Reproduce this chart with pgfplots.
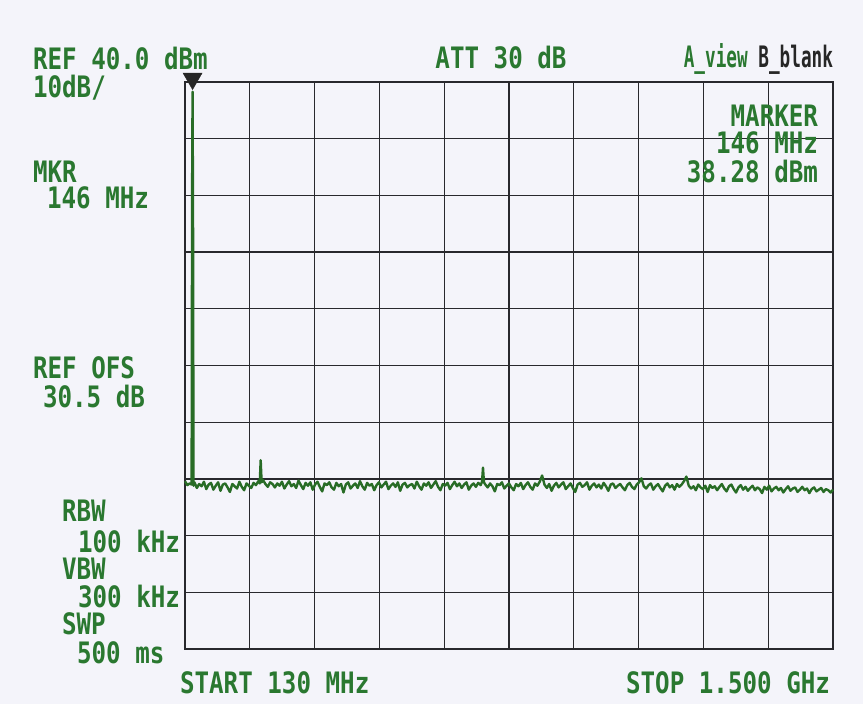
\documentclass[border=0pt]{standalone}
\usepackage{pgfplots}
\pgfplotsset{compat=1.18}
\usepackage{fontspec}
\setmainfont{DejaVu Sans Mono}
\newfontfamily\pf{DejaVu Sans Mono}[FakeStretch=0.82]
\newfontfamily\pfn{DejaVu Sans Mono}[FakeStretch=0.6]
\definecolor{txtgreen}{RGB}{42,120,48}
\definecolor{trgreen}{RGB}{40,108,38}
\definecolor{gridc}{RGB}{40,40,45}
\definecolor{bgc}{RGB}{244,244,250}
\newcommand{\T}{\pf\bfseries\fontsize{29.5bp}{30bp}\selectfont}
\begin{document}
\begin{tikzpicture}
\path[use as bounding box, fill=bgc] (0,0) rectangle (863bp,704bp);
\begin{axis}[
  at={(185bp,55bp)}, anchor=south west,
  scale only axis, width=648bp, height=567bp,
  xmin=130, xmax=1500, ymin=-60, ymax=40,
  xtick={130,267,404,541,678,815,952,1089,1226,1363,1500},
  ytick={-60,-50,-40,-30,-20,-10,0,10,20,30,40},
  xticklabels={}, yticklabels={},
  major tick length=0pt,
  grid=major,
  grid style={gridc, line width=1.3bp},
  axis line style={gridc, line width=1.5bp},
  clip=false,
]
\addplot[trgreen, line width=2.4bp, line join=round, mark=none] coordinates {
(130,-30.4)(135,-31.1)(140,-30.8)(144,-31.0)(145,20)(146,38.28)(147,15)(148,-31.2)
(150,-30.6)(155,-31.6)(160,-30.9)(165,-31.3)(170,-30.5)(175,-31.8)(180,-31.0)(185,-30.7)
(190,-31.9)(195,-31.2)(200,-30.6)(205,-32.1)(210,-31.0)(215,-30.8)(220,-31.5)(225,-32.3)
(230,-30.9)(235,-31.3)(240,-31.7)(245,-30.5)(250,-31.4)(255,-32.0)(260,-30.8)(265,-31.2)
(270,-31.6)(275,-30.7)(280,-31.1)(285,-30.4)(288,-30.8)(290,-26.7)(292,-30.6)(295,-30.2)
(300,-30.9)(305,-31.4)(310,-30.6)(315,-30.9)(320,-31.5)(325,-30.8)(330,-31.2)(335,-30.5)
(340,-31.7)(345,-31.0)(350,-30.4)(355,-31.3)(360,-30.9)(365,-31.6)(370,-30.3)(375,-31.1)
(380,-31.8)(385,-30.7)(390,-31.2)(395,-30.6)(400,-31.9)(405,-31.0)(410,-30.5)(415,-31.4)
(420,-32.2)(425,-30.8)(430,-31.1)(435,-30.6)(440,-31.5)(445,-31.9)(450,-30.7)(455,-31.3)
(460,-30.9)(465,-32.4)(470,-31.0)(475,-30.6)(480,-31.7)(485,-31.2)(490,-30.8)(495,-31.6)
(500,-30.4)(505,-31.3)(510,-31.9)(515,-30.7)(520,-31.2)(525,-30.9)(530,-32.0)(535,-31.1)
(540,-30.6)(545,-31.5)(550,-31.0)(555,-30.5)(560,-31.8)(565,-31.2)(570,-30.8)(575,-31.4)
(580,-30.6)(585,-32.1)(590,-31.0)(595,-30.7)(600,-31.5)(605,-31.1)(610,-30.9)(615,-31.7)
(620,-30.5)(625,-31.3)(630,-31.9)(635,-30.8)(640,-31.2)(645,-30.6)(650,-31.6)(655,-31.0)
(660,-30.4)(665,-31.4)(670,-32.0)(675,-30.9)(680,-31.2)(685,-30.7)(690,-31.8)(695,-31.1)
(700,-30.5)(705,-31.3)(710,-30.8)(715,-31.6)(720,-31.0)(725,-30.6)(730,-31.9)(735,-31.2)
(740,-30.8)(745,-31.4)(750,-30.7)(755,-31.1)(758,-30.5)(760,-28.0)(762,-30.6)(765,-31.0)
(770,-31.5)(775,-30.8)(780,-31.3)(785,-32.2)(790,-30.9)(795,-31.1)(800,-30.6)(805,-31.7)
(810,-31.2)(815,-30.8)(820,-31.5)(825,-32.0)(830,-30.9)(835,-31.3)(840,-30.7)(845,-31.8)
(850,-31.1)(855,-30.6)(860,-31.4)(865,-31.9)(870,-30.8)(875,-31.2)(880,-30.5)(885,-29.4)
(890,-31.0)(895,-31.6)(900,-30.9)(905,-32.1)(910,-31.2)(915,-30.7)(920,-31.5)(925,-31.0)
(930,-30.6)(935,-31.8)(940,-31.3)(945,-30.8)(950,-31.6)(955,-32.3)(960,-31.0)(965,-30.7)
(970,-31.4)(975,-31.1)(980,-30.6)(985,-31.9)(990,-31.2)(995,-30.8)(1000,-31.5)(1005,-31.0)
(1010,-31.7)(1015,-30.7)(1020,-31.3)(1025,-32.1)(1030,-31.0)(1035,-30.8)(1040,-31.6)(1045,-31.2)
(1050,-30.9)(1055,-31.5)(1060,-32.0)(1065,-31.1)(1070,-30.7)(1075,-31.4)(1080,-31.8)(1085,-31.0)
(1090,-30.6)(1095,-29.9)(1100,-31.3)(1105,-31.7)(1110,-31.1)(1115,-30.8)(1120,-31.9)(1125,-31.3)
(1130,-30.9)(1135,-31.6)(1140,-32.2)(1145,-31.2)(1150,-30.8)(1155,-31.5)(1160,-31.1)(1165,-31.9)
(1170,-30.9)(1175,-31.4)(1180,-31.0)(1185,-30.4)(1190,-29.6)(1195,-31.2)(1200,-31.7)(1205,-31.3)
(1210,-32.0)(1215,-31.0)(1220,-31.5)(1225,-31.8)(1230,-31.2)(1235,-32.3)(1240,-31.1)(1245,-31.6)
(1250,-31.3)(1255,-32.0)(1260,-31.4)(1265,-30.9)(1270,-31.7)(1275,-32.2)(1280,-31.3)(1285,-31.0)
(1290,-31.8)(1295,-32.4)(1300,-31.5)(1305,-31.1)(1310,-31.9)(1315,-31.4)(1320,-32.1)(1325,-31.6)
(1330,-31.2)(1335,-32.0)(1340,-31.5)(1345,-31.8)(1350,-32.5)(1355,-31.4)(1360,-31.9)(1365,-31.2)
(1370,-32.2)(1375,-31.7)(1380,-31.4)(1385,-32.0)(1390,-31.6)(1395,-32.4)(1400,-31.8)(1405,-31.3)
(1410,-32.1)(1415,-31.7)(1420,-31.5)(1425,-32.3)(1430,-31.9)(1435,-31.4)(1440,-32.0)(1445,-31.7)
(1450,-32.5)(1455,-31.8)(1460,-31.5)(1465,-32.2)(1470,-31.9)(1475,-31.6)(1480,-32.3)(1485,-31.8)
(1490,-32.0)(1495,-32.4)(1500,-31.9)
};
\addplot[only marks, mark=triangle*, mark size=11bp, mark options={rotate=180, fill=black!85, draw=black!85}] coordinates {(146,40.6)};
\end{axis}
\begin{scope}[every node/.style={inner sep=0pt, outer sep=0pt, text=txtgreen, font=\T}]
\node[anchor=west] at (33bp,645bp) {REF 40.0 dBm};
\node[anchor=west] at (33bp,616bp) {10dB/};
\node[anchor=west] at (33bp,532bp) {MKR};
\node[anchor=west] at (47bp,506bp) {146 MHz};
\node[anchor=west] at (33bp,336bp) {REF OFS};
\node[anchor=west] at (43bp,307bp) {30.5 dB};
\node[anchor=west] at (62bp,193bp) {RBW};
\node[anchor=east] at (180bp,162bp) {100 kHz};
\node[anchor=west] at (62bp,135bp) {VBW};
\node[anchor=east] at (180bp,107bp) {300 kHz};
\node[anchor=west] at (62bp,80bp) {SWP};
\node[anchor=west] at (77bp,51bp) {500 ms};
\node[anchor=west] at (180bp,21bp) {START 130 MHz};
\node[anchor=east] at (830bp,21bp) {STOP 1.500 GHz};
\node at (501bp,646bp) {ATT 30 dB};
\node[anchor=east] at (818bp,588bp) {MARKER};
\node[anchor=east] at (818bp,561bp) {146 MHz};
\node[anchor=east] at (818bp,532bp) {38.28 dBm};
\node[anchor=east, font=\pfn\bfseries\fontsize{29.5bp}{30bp}\selectfont] at (833bp,645bp) {A\_view \textcolor{black!85}{B\_blank}};
\end{scope}
\end{tikzpicture}
\end{document}
